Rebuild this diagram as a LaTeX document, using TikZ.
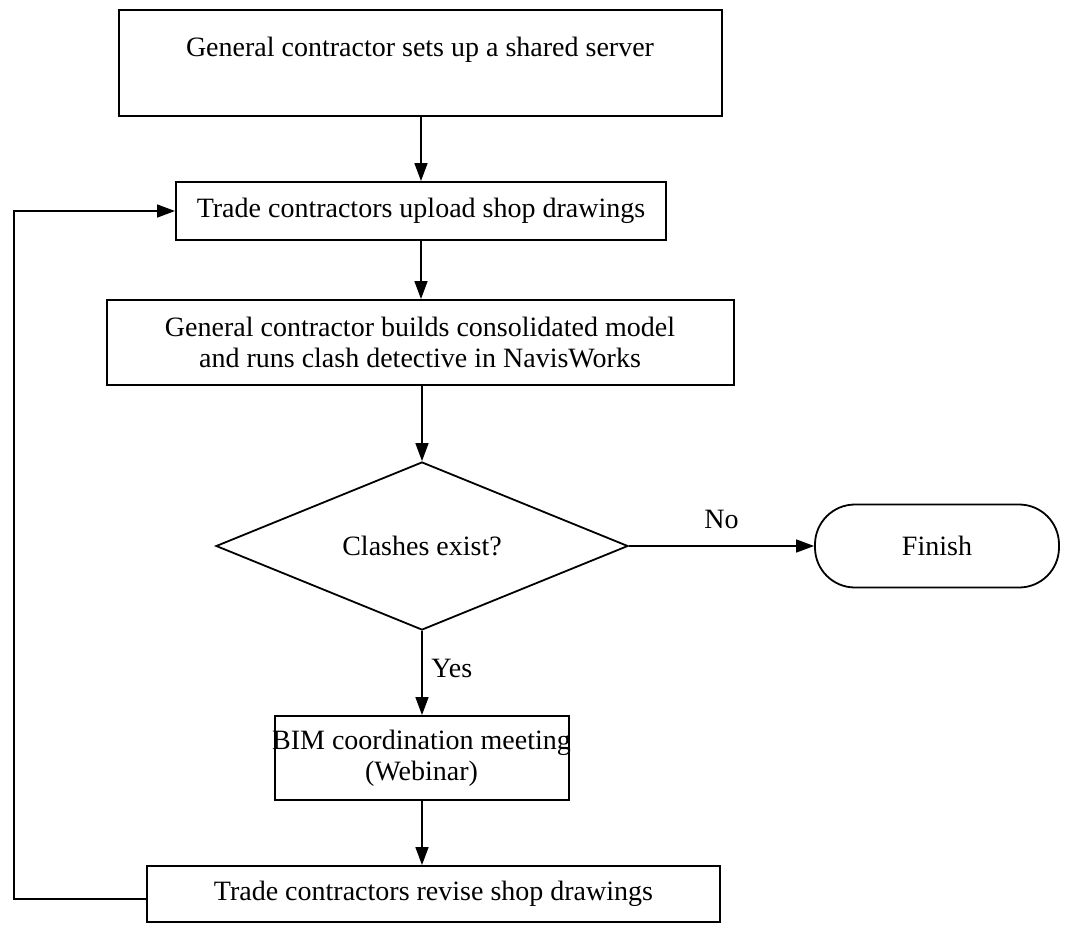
\documentclass[tikz,border=0pt]{standalone}
\usepackage{fontspec}
\setmainfont{Liberation Serif}
\usetikzlibrary{shapes.geometric,arrows.meta,positioning}

\begin{document}
\begin{tikzpicture}[x=0.5pt,y=-0.5pt,
    font=\fontsize{14}{15.5}\selectfont,
    >={Triangle[length=9pt,width=6.5pt]},
    box/.style={draw, line width=1pt, align=center, inner sep=0pt},
    decision/.style={draw, diamond, aspect=2.5, line width=0.9pt, inner sep=0pt,
        minimum width=206pt, minimum height=84pt},
    term/.style={draw, rectangle, rounded corners=20pt, line width=0.9pt,
        minimum width=122pt, minimum height=41.5pt},
    flow/.style={->, line width=0.8pt}]
\useasboundingbox (0,0) rectangle (1072,927);

% Draw boxes
\node[box, minimum width=301.5pt, minimum height=53pt] (setup) at (420,63)
    {General contractor sets up a shared server\\[1pt] ~};
\node[box, minimum width=245pt, minimum height=29pt] (upload) at (421,211)
    {Trade contractors upload shop drawings};
\node[box, minimum width=313.5pt, minimum height=42.5pt] (model) at (420,342.5)
    {General contractor builds consolidated model\\and runs clash detective in NavisWorks};
\node[decision] (clash) at (422,546) {Clashes exist?};
\node[term] (finish) at (937,546) {Finish};
\node[box, minimum width=147pt, minimum height=42pt] (meeting) at (421.5,758)
    {\makebox[140pt]{BIM coordination meeting}\\(Webinar)};
\node[box, minimum width=286.5pt, minimum height=28pt] (revise) at (433.5,894)
    {Trade contractors revise shop drawings};

% Draw arrows
\draw[flow] (setup.south -| upload.north) -- (upload.north);
\draw[flow] (upload) -- (model.north -| upload.south);
\draw[flow] (model.south -| clash.north) -- (clash.north);
\draw[flow] (clash.east) -- node[above=5pt] {No} (finish.west);
\draw[flow] (clash.south) -- node[right=1pt, pos=0.45] {Yes} (clash.south |- meeting.north);
\draw[flow] (meeting.south -| clash.south) -- (clash.south |- revise.north);

% Loop back
\coordinate (back) at (14,0);
\draw[flow] ([yshift=-2.5pt]revise.west) -- ([yshift=-2.5pt]revise.west -| back) |- (upload.west);
\end{tikzpicture}
\end{document}
